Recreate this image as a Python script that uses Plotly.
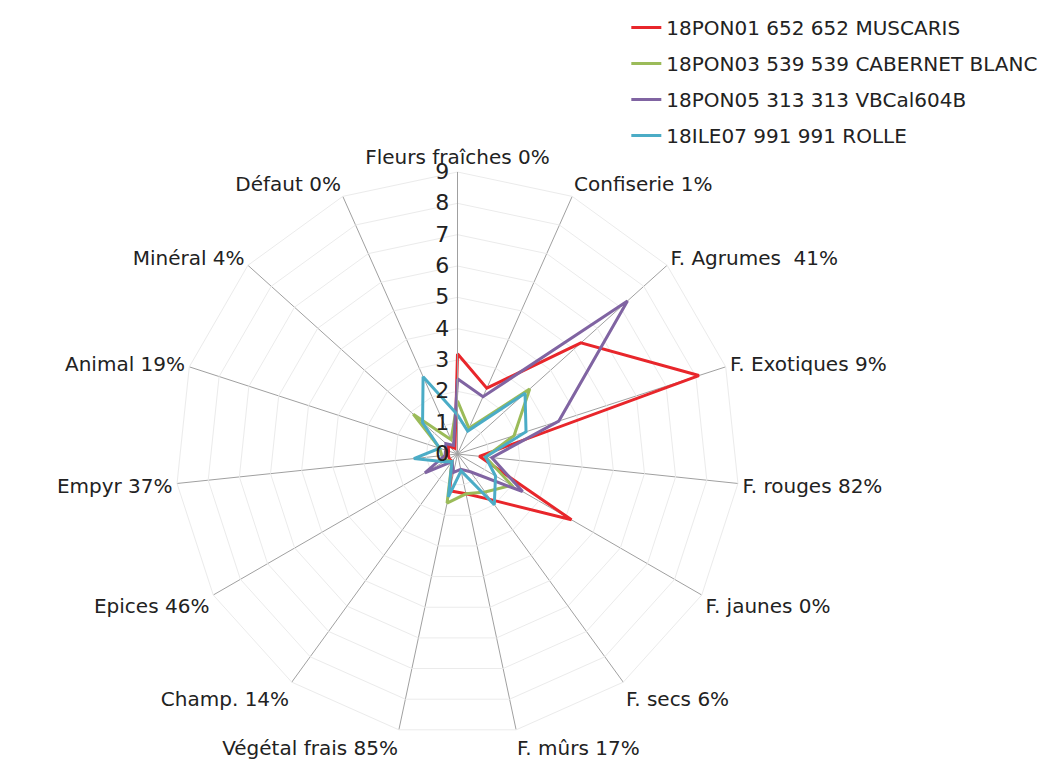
import plotly.graph_objects as go

categories = ["Fleurs fraîches 0%", "Confiserie 1%", "F. Agrumes  41%", "F. Exotiques 9%",
              "F. rouges 82%", "F. jaunes 0%", "F. secs 6%", "F. mûrs 17%",
              "Végétal frais 85%", "Champ. 14%", "Epices 46%", "Empyr 37%",
              "Animal 19%", "Minéral 4%", "Défaut 0%"]

muscaris = [3.2, 2.3, 5.3, 8.1, 0.7, 4.2, 1.8, 1.3, 1.2, 0.3, 0.3, 0.3, 0.3, 0.4, 0.2]
cabernet_blanc = [1.7, 0.9, 3.1, 1.9, 0.9, 2.0, 1.5, 1.3, 1.6, 0.3, 0.4, 0.5, 0.6, 1.9, 0.5]
vbcal604b = [2.4, 2.0, 7.3, 3.4, 1.1, 2.4, 0.7, 0.5, 0.6, 0.3, 1.2, 0.4, 0.4, 0.5, 0.3]
rolle = [1.25, 0.8, 2.9, 2.3, 0.9, 1.4, 2.0, 0.55, 1.4, 0.3, 0.5, 1.4, 0.6, 1.5, 2.7]

series_names = ["18PON01 652 652 MUSCARIS", "18PON03 539 539 CABERNET BLANC",
                "18PON05 313 313 VBCal604B", "18ILE07 991 991 ROLLE"]
series_values = [muscaris, cabernet_blanc, vbcal604b, rolle]
colors = ["#E8262B", "#9BBB59", "#8064A2", "#4BACC6"]

radial_ticks = [0, 1, 2, 3, 4, 5, 6, 7, 8, 9]

FONT = "'DejaVu Sans', Verdana, sans-serif"

fig = go.Figure()
for i, (name, vals, col) in enumerate(zip(series_names, series_values, colors)):
    fig.add_trace(go.Scatterpolar(
        r=vals + vals[:1],
        theta=categories + categories[:1],
        mode="lines",
        name=name,
        legendgroup=f"g{i}",
        line=dict(color=col, width=3),
    ))

W, H = 1048, 760
cx, cy, R = 449.5, 446, 282
fig.update_layout(
    width=W, height=H,
    margin=dict(l=0, r=0, t=0, b=0),
    paper_bgcolor="white",
    plot_bgcolor="white",
    font=dict(family=FONT, size=20, color="#222222"),
    polar=dict(
        domain=dict(x=[(cx - R) / W, (cx + R) / W], y=[(H - cy - R) / H, (H - cy + R) / H]),
        bgcolor="white",
        gridshape="linear",
        angularaxis=dict(
            rotation=90, direction="clockwise",
            showline=True, linecolor="#EBEBEB", linewidth=1,
            gridcolor="#A0A0A0", gridwidth=1,
            ticks="", tickfont=dict(family=FONT, size=20, color="#222222"),
        ),
        radialaxis=dict(
            range=[0, 9], tickvals=radial_ticks, ticktext=[str(t) for t in radial_ticks],
            angle=90, tickangle=90, side="counterclockwise",
            showline=True, linecolor="#A0A0A0", linewidth=1,
            gridcolor="#EBEBEB", gridwidth=1,
            ticks="", tickfont=dict(family=FONT, size=22, color="#222222"),
        ),
    ),
    legend=dict(
        x=0.59, y=1.0, xanchor="left", yanchor="top",
        font=dict(family=FONT, size=20, color="#222222"),
        itemwidth=30, borderwidth=0,
        tracegroupgap=7, bgcolor="rgba(0,0,0,0)",
    ),
)

fig.write_html("out.html")
